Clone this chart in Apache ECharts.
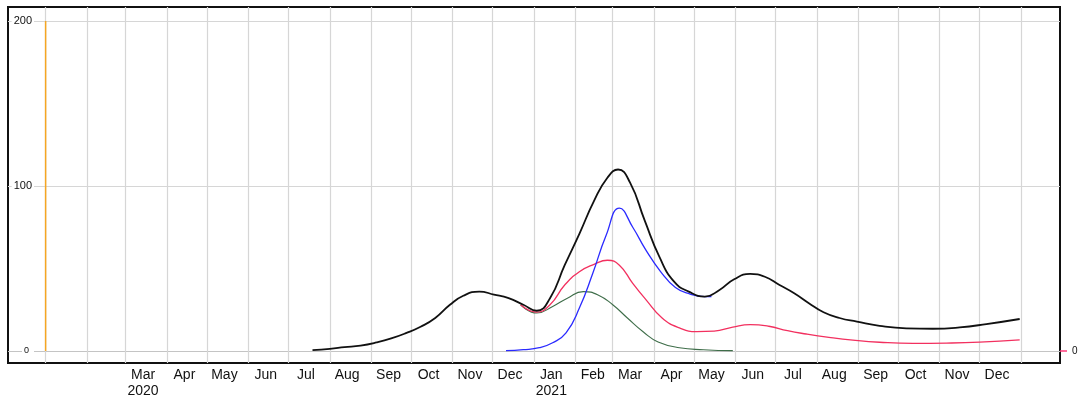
<!DOCTYPE html>
<html>
<head>
<meta charset="utf-8">
<script src="https://cdn.jsdelivr.net/npm/echarts@6/dist/echarts.min.js"></script>
<style>
  html, body { margin: 0; padding: 0; background: #fff; }
  #chart { width: 1078px; height: 399px; }
</style>
</head>
<body>
<div id="chart"></div>
<script>
// Total (black)
const totalDates = ['2020-07-19','2020-08-01','2020-08-12','2020-08-24','2020-09-05','2020-09-16','2020-09-27','2020-10-08','2020-10-19','2020-10-30','2020-11-09','2020-11-21','2020-12-02','2020-12-13','2020-12-24','2021-01-03','2021-01-13','2021-01-24','2021-02-04','2021-02-15','2021-02-25','2021-03-05','2021-03-14','2021-03-25','2021-04-05','2021-04-16','2021-04-27','2021-05-09','2021-05-20','2021-05-31','2021-06-12','2021-06-23','2021-07-04','2021-07-15','2021-07-26','2021-08-06','2021-08-18','2021-08-31','2021-09-17','2021-10-07','2021-10-27','2021-11-16','2021-12-06','2021-12-31'];
const totalValues = [0.5,1.3,2.3,3.3,5.2,7.6,10.8,14.7,20,28,33.5,36,34.2,32,28,24.4,32,52,71,91,105,110,102,79,57,42,36,33,37,43.5,46.7,45,40,35,29,23.5,20,17.8,15.2,13.7,13.5,14.3,16.3,19.4];

// Blue series
const blueDates = ['2020-12-11','2020-12-24','2021-01-05','2021-01-15','2021-01-25','2021-02-04','2021-02-14','2021-02-24','2021-03-06','2021-03-16','2021-03-26','2021-04-06','2021-04-17','2021-04-28','2021-05-09','2021-05-14'];
const blueValues = [0.2,0.8,2,5,11,26,47,70,86.6,75,61,48,38.5,34.5,33,33];

// Red series
const redDates = ['2020-12-22','2021-01-03','2021-01-13','2021-01-24','2021-02-04','2021-02-15','2021-02-25','2021-03-06','2021-03-16','2021-03-26','2021-04-07','2021-04-20','2021-05-03','2021-05-16','2021-05-30','2021-06-12','2021-06-26','2021-07-10','2021-07-24','2021-08-10','2021-08-28','2021-09-17','2021-10-12','2021-11-06','2021-12-01','2021-12-31'];
const redValues = [28,23.6,28,40,48,52.5,55,52,41,31,20,14,11.7,12,14.5,16,15,12.3,10.3,8.3,6.6,5.3,4.6,4.8,5.4,6.7];

// Green series
const greenDates = ['2020-12-22','2021-01-03','2021-01-15','2021-01-26','2021-02-07','2021-02-18','2021-03-01','2021-03-12','2021-03-24','2021-04-04','2021-04-20','2021-05-08','2021-05-30'];
const greenValues = [28,23,27,32,36,34,28,20,11.5,5.5,2,0.8,0.2];

// Orange marker at the start of 2020
const markerDates = ['2020-01-01','2020-01-01'];
const markerValues = [0, 200];

// Axis ticks
const yTicks = [0, 100, 200];
const rightTicks = [0];
const monthNames = ['Jan','Feb','Mar','Apr','May','Jun','Jul','Aug','Sep','Oct','Nov','Dec'];

const DAY = 86400000;
function toTime(s) {
  const p = s.split('-').map(Number);
  return new Date(p[0], p[1] - 1, p[2]).getTime();
}
const t0 = toTime('2020-01-01');
const xMin = t0 - 28.2 * DAY;
const xMax = t0 + 760.2 * DAY;

// Month boundaries for vertical grid lines: Jan 2020 .. Jan 2022
const monthStarts = [];
for (let i = 0; i <= 24; i++) monthStarts.push(new Date(2020, i, 1).getTime());
// Label anchors around mid-month: Mar 2020 .. Dec 2021
const labelPoints = [];
for (let i = 2; i <= 23; i++) labelPoints.push(new Date(2020, i, 14).getTime());

function pairs(dates, values) {
  return dates.map((d, i) => [toTime(d), values[i]]);
}

const font = 'Liberation Sans, Arial, Helvetica, sans-serif';
const chart = echarts.init(document.getElementById('chart'), null, { renderer: 'canvas' });

chart.setOption({
  animation: false,
  backgroundColor: '#fff',
  grid: {
    left: 8, top: 7, right: 18, bottom: 36,
    outerBoundsMode: 'none',
    show: true, borderColor: '#111', borderWidth: 2, backgroundColor: 'transparent'
  },
  xAxis: {
    type: 'value',
    min: xMin,
    max: xMax,
    axisLine: { show: false },
    axisTick: { show: false, customValues: monthStarts },
    splitLine: { show: true, lineStyle: { color: '#d6d6d6', width: 1.2 } },
    axisLabel: {
      customValues: labelPoints,
      margin: 4,
      fontFamily: font,
      fontSize: 14,
      color: '#111',
      lineHeight: 16,
      hideOverlap: false,
      formatter: function (v) {
        const d = new Date(v);
        const m = d.getMonth();
        let s = monthNames[m];
        if ((d.getFullYear() === 2020 && m === 2) || m === 0) s += '\n' + d.getFullYear();
        return s;
      }
    }
  },
  yAxis: [
    {
      type: 'value',
      position: 'left',
      min: -7.27,
      max: 208.48,
      axisLine: { show: false },
      axisTick: { show: false, customValues: yTicks },
      splitLine: { show: true, lineStyle: { color: ['#c4c4c4', '#d6d6d6', '#d6d6d6'], width: 1.2 } },
      axisLabel: {
        customValues: yTicks,
        inside: true,
        align: 'right',
        margin: 26,
        fontFamily: font,
        fontSize: 11,
        color: '#111',
        backgroundColor: '#fff',
        padding: [0, 2, 0, 2],
        formatter: function (v) {
          return v === 0 ? '{z|0}' : String(v);
        },
        rich: {
          z: { fontSize: 9, fontFamily: font, color: '#111', padding: [0, 3, 0, 0] }
        }
      }
    },
    {
      type: 'value',
      position: 'right',
      min: -7.27,
      max: 208.48,
      axisLine: { show: false },
      axisTick: { show: true, customValues: rightTicks, length: 7, lineStyle: { color: '#ff3b7a', width: 1.5 } },
      splitLine: { show: false },
      axisLabel: {
        customValues: rightTicks,
        margin: 12,
        fontFamily: font,
        fontSize: 10,
        color: '#111'
      }
    }
  ],
  series: [
    {
      name: 'marker', type: 'line', data: pairs(markerDates, markerValues),
      symbol: 'none', lineStyle: { color: '#f5a623', width: 1.5 }, z: 2
    },
    {
      name: 'green', type: 'line', data: pairs(greenDates, greenValues),
      symbol: 'none', smooth: 0.5, lineStyle: { color: '#3f6e4a', width: 1.1 }, z: 3
    },
    {
      name: 'red', type: 'line', data: pairs(redDates, redValues),
      symbol: 'none', smooth: 0.5, lineStyle: { color: '#f2305f', width: 1.3 }, z: 4
    },
    {
      name: 'blue', type: 'line', data: pairs(blueDates, blueValues),
      symbol: 'none', smooth: 0.5, lineStyle: { color: '#2a2aff', width: 1.3 }, z: 5
    },
    {
      name: 'total', type: 'line', data: pairs(totalDates, totalValues),
      symbol: 'none', smooth: 0.5, lineStyle: { color: '#111', width: 1.8 }, z: 6
    }
  ]
});
</script>
</body>
</html>
